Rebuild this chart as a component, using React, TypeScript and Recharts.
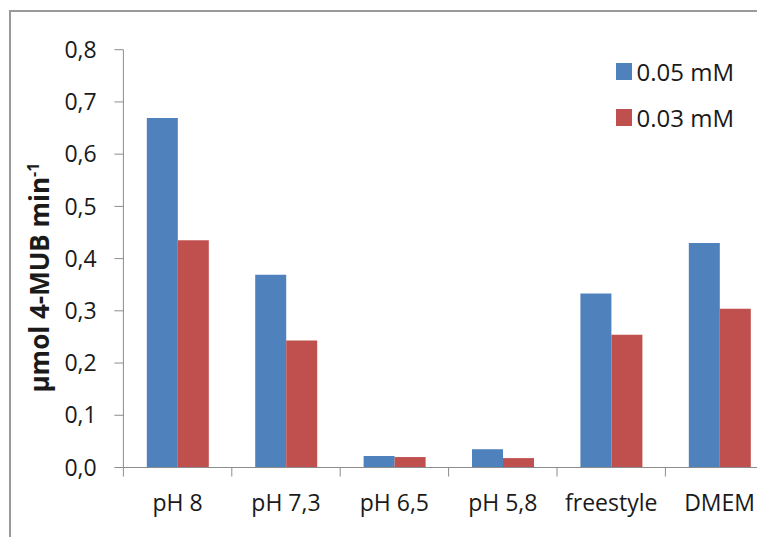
import React from "react";
import { BarChart, Bar, XAxis, YAxis } from "recharts";

// Categories along the x axis
const categories = ["pH 8", "pH 7,3", "pH 6,5", "pH 5,8", "freestyle", "DMEM"];

// Release rate (µmol 4-MUB per min) for each substrate concentration
const conc005 = [0.669, 0.369, 0.022, 0.035, 0.333, 0.43];
const conc003 = [0.435, 0.243, 0.02, 0.018, 0.254, 0.304];

const seriesNames = ["0.05 mM", "0.03 mM"];
const seriesColors = ["#4F81BD", "#C0504D"];

const yTicks = [0, 0.1, 0.2, 0.3, 0.4, 0.5, 0.6, 0.7, 0.8];

const rows = categories.map((cat, i) => ({
  cat,
  s0: conc005[i],
  s1: conc003[i],
}));

const FONT = "'Open Sans', 'DejaVu Sans', sans-serif";
const AXIS = "#8c8c8c";
const TEXT = "#1a1a1a";

const CategoryTick = (props: any) => {
  const { x, y, payload, index, visibleTicksCount } = props;
  const half = payload && typeof payload.offset === "number" ? payload.offset : 0;
  const last = index === (visibleTicksCount ?? categories.length) - 1;
  return (
    <g>
      <line x1={x - half} x2={x - half} y1={y} y2={y + 9} stroke={AXIS} strokeWidth={1} />
      {last && <line x1={x + half} x2={x + half} y1={y} y2={y + 9} stroke={AXIS} strokeWidth={1} />}
      <text x={x} y={y + 43} textAnchor="middle" fontSize={23} fontFamily={FONT} fill={TEXT}>
        {payload.value}
      </text>
    </g>
  );
};

const YTitle = (props: any) => {
  const vb = props.viewBox || { x: 0, y: 0, width: 0, height: 0 };
  const cx = vb.x - 14;
  const cy = vb.y + vb.height / 2 + 19;
  return (
    <text
      x={cx}
      y={cy}
      transform={`rotate(-90, ${cx}, ${cy})`}
      textAnchor="middle"
      fontSize={26}
      fontWeight="bold"
      fontFamily={FONT}
      fill={TEXT}
    >
      µmol 4-MUB min
      <tspan fontSize={16} dy={-10}>-1</tspan>
    </text>
  );
};

export default function App() {
  return (
    <div
      style={{
        position: "relative",
        width: 757,
        height: 529,
        overflow: "hidden",
        background: "#fff",
        fontFamily: FONT,
      }}
    >
      <div
        style={{
          position: "absolute",
          left: 1,
          top: 2,
          width: 900,
          height: 700,
          borderTop: "2px solid #9a9a9a",
          borderLeft: "2px solid #9a9a9a",
        }}
      />
      <div style={{ position: "absolute", left: 0, top: 0 }}>
        <BarChart
          width={800}
          height={529}
          data={rows}
          margin={{ top: 41.7, right: 34.2, left: 55.4, bottom: 19.5 }}
          barCategoryGap="21.6%"
          barGap={0}
        >
          <XAxis
            dataKey="cat"
            height={50}
            stroke={AXIS}
            tickLine={false}
            tickSize={0}
            tickMargin={0}
            interval={0}
            tick={<CategoryTick />}
          />
          <YAxis
            width={60}
            domain={[0, 0.8]}
            ticks={yTicks}
            interval={0}
            stroke={AXIS}
            tickSize={9}
            tickMargin={17.7}
            tickFormatter={(v: number) => v.toFixed(1).replace(".", ",")}
            tick={{ fontSize: 23, fontFamily: FONT, fill: TEXT }}
            label={<YTitle />}
          />
          <Bar dataKey="s0" name={seriesNames[0]} fill={seriesColors[0]} isAnimationActive={false} />
          <Bar dataKey="s1" name={seriesNames[1]} fill={seriesColors[1]} isAnimationActive={false} />
        </BarChart>
      </div>
      <div style={{ position: "absolute", left: 608, top: 40.5 }}>
        {seriesNames.map((name, i) => (
          <div key={name} style={{ height: 46, display: "flex", alignItems: "center" }}>
            <div style={{ width: 16, height: 17, background: seriesColors[i] }} />
            <span style={{ marginLeft: 4.5, fontSize: 24, color: TEXT, fontFamily: FONT }}>{name}</span>
          </div>
        ))}
      </div>
    </div>
  );
}
